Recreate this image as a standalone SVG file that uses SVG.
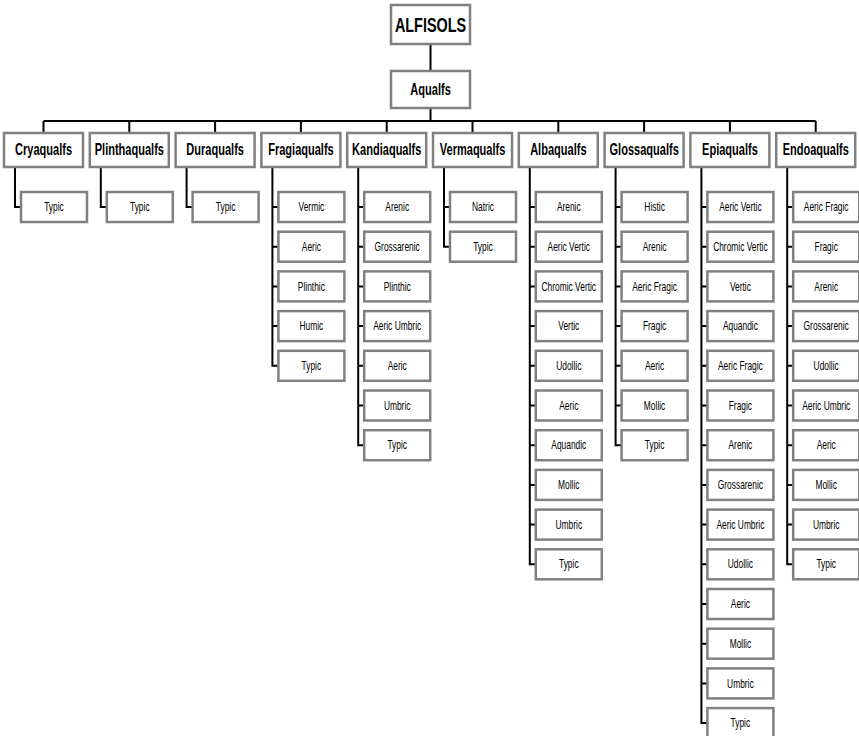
<svg xmlns="http://www.w3.org/2000/svg" width="859" height="736" viewBox="0 0 859 736">
<style>
rect{fill:#fff;stroke:#808080;stroke-width:2.5}
text{font-family:"Liberation Sans",Arial,sans-serif;fill:#000;text-anchor:middle;transform-box:fill-box;transform-origin:center}
.r{font-size:20px;font-weight:bold;transform:scaleX(0.72)}
.b{font-size:16px;font-weight:bold;transform:scaleX(0.69)}
.s{font-size:12px;transform:scaleX(0.7)}
#connectors path{fill:none;stroke:#000;stroke-width:2}
</style>
<rect x="0" y="0" width="859" height="736" style="fill:#fff;stroke:none"/>
<g id="connectors">
<path d="M430.5 44V71M430.5 108V121M43.5 121H815.7M43.5 121V133M129.3 121V133M215.1 121V133M300.9 121V133M386.7 121V133M472.5 121V133M558.3 121V133M644.1 121V133M729.9 121V133M815.7 121V133"/>
<path d="M15 167V207H21"/>
<path d="M100.8 167V207H106.8"/>
<path d="M186.6 167V207H192.6"/>
<path d="M272.4 167V365.8H278.4M272.4 207H278.4M272.4 246.7H278.4M272.4 286.4H278.4M272.4 326.1H278.4"/>
<path d="M358.2 167V445.2H364.2M358.2 207H364.2M358.2 246.7H364.2M358.2 286.4H364.2M358.2 326.1H364.2M358.2 365.8H364.2M358.2 405.5H364.2"/>
<path d="M444 167V246.7H450M444 207H450"/>
<path d="M529.8 167V564.3H535.8M529.8 207H535.8M529.8 246.7H535.8M529.8 286.4H535.8M529.8 326.1H535.8M529.8 365.8H535.8M529.8 405.5H535.8M529.8 445.2H535.8M529.8 484.9H535.8M529.8 524.6H535.8"/>
<path d="M615.6 167V445.2H621.6M615.6 207H621.6M615.6 246.7H621.6M615.6 286.4H621.6M615.6 326.1H621.6M615.6 365.8H621.6M615.6 405.5H621.6"/>
<path d="M701.4 167V723.1H707.4M701.4 207H707.4M701.4 246.7H707.4M701.4 286.4H707.4M701.4 326.1H707.4M701.4 365.8H707.4M701.4 405.5H707.4M701.4 445.2H707.4M701.4 484.9H707.4M701.4 524.6H707.4M701.4 564.3H707.4M701.4 604H707.4M701.4 643.7H707.4M701.4 683.4H707.4"/>
<path d="M787.2 167V564.3H793.2M787.2 207H793.2M787.2 246.7H793.2M787.2 286.4H793.2M787.2 326.1H793.2M787.2 365.8H793.2M787.2 405.5H793.2M787.2 445.2H793.2M787.2 484.9H793.2M787.2 524.6H793.2"/>
</g>
<g id="alfisols"><rect x="391" y="5" width="79" height="39"/><text class="r" x="430.5" y="32">ALFISOLS</text></g>
<g id="aqualfs"><rect x="391" y="71" width="79" height="37"/><text class="b" x="430.5" y="95">Aqualfs</text></g>
<g id="cryaqualfs"><rect x="4" y="133" width="79" height="34"/><text class="b" x="43.5" y="155.5">Cryaqualfs</text></g>
<g id="plinthaqualfs"><rect x="89.8" y="133" width="79" height="34"/><text class="b" x="129.3" y="155.5">Plinthaqualfs</text></g>
<g id="duraqualfs"><rect x="175.6" y="133" width="79" height="34"/><text class="b" x="215.1" y="155.5">Duraqualfs</text></g>
<g id="fragiaqualfs"><rect x="261.4" y="133" width="79" height="34"/><text class="b" x="300.9" y="155.5">Fragiaqualfs</text></g>
<g id="kandiaqualfs"><rect x="347.2" y="133" width="79" height="34"/><text class="b" x="386.7" y="155.5">Kandiaqualfs</text></g>
<g id="vermaqualfs"><rect x="433" y="133" width="79" height="34"/><text class="b" x="472.5" y="155.5">Vermaqualfs</text></g>
<g id="albaqualfs"><rect x="518.8" y="133" width="79" height="34"/><text class="b" x="558.3" y="155.5">Albaqualfs</text></g>
<g id="glossaqualfs"><rect x="604.6" y="133" width="79" height="34"/><text class="b" x="644.1" y="155.5">Glossaqualfs</text></g>
<g id="epiaqualfs"><rect x="690.4" y="133" width="79" height="34"/><text class="b" x="729.9" y="155.5">Epiaqualfs</text></g>
<g id="endoaqualfs"><rect x="776.2" y="133" width="79" height="34"/><text class="b" x="815.7" y="155.5">Endoaqualfs</text></g>

<g id="cry-typic"><rect x="21" y="192" width="66" height="30"/><text class="s" x="54" y="211.2">Typic</text></g>
<g id="plin-typic"><rect x="106.8" y="192" width="66" height="30"/><text class="s" x="139.8" y="211.2">Typic</text></g>
<g id="dura-typic"><rect x="192.6" y="192" width="66" height="30"/><text class="s" x="225.6" y="211.2">Typic</text></g>

<g id="fragi-vermic"><rect x="278.4" y="192" width="66" height="30"/><text class="s" x="311.4" y="211.2">Vermic</text></g>
<g id="fragi-aeric"><rect x="278.4" y="231.7" width="66" height="30"/><text class="s" x="311.4" y="250.9">Aeric</text></g>
<g id="fragi-plinthic"><rect x="278.4" y="271.4" width="66" height="30"/><text class="s" x="311.4" y="290.6">Plinthic</text></g>
<g id="fragi-humic"><rect x="278.4" y="311.1" width="66" height="30"/><text class="s" x="311.4" y="330.3">Humic</text></g>
<g id="fragi-typic"><rect x="278.4" y="350.8" width="66" height="30"/><text class="s" x="311.4" y="370">Typic</text></g>

<g id="kandi-arenic"><rect x="364.2" y="192" width="66" height="30"/><text class="s" x="397.2" y="211.2">Arenic</text></g>
<g id="kandi-grossarenic"><rect x="364.2" y="231.7" width="66" height="30"/><text class="s" x="397.2" y="250.9">Grossarenic</text></g>
<g id="kandi-plinthic"><rect x="364.2" y="271.4" width="66" height="30"/><text class="s" x="397.2" y="290.6">Plinthic</text></g>
<g id="kandi-aeric-umbric"><rect x="364.2" y="311.1" width="66" height="30"/><text class="s" x="397.2" y="330.3">Aeric Umbric</text></g>
<g id="kandi-aeric"><rect x="364.2" y="350.8" width="66" height="30"/><text class="s" x="397.2" y="370">Aeric</text></g>
<g id="kandi-umbric"><rect x="364.2" y="390.5" width="66" height="30"/><text class="s" x="397.2" y="409.7">Umbric</text></g>
<g id="kandi-typic"><rect x="364.2" y="430.2" width="66" height="30"/><text class="s" x="397.2" y="449.4">Typic</text></g>

<g id="verm-natric"><rect x="450" y="192" width="66" height="30"/><text class="s" x="483" y="211.2">Natric</text></g>
<g id="verm-typic"><rect x="450" y="231.7" width="66" height="30"/><text class="s" x="483" y="250.9">Typic</text></g>

<g id="alba-arenic"><rect x="535.8" y="192" width="66" height="30"/><text class="s" x="568.8" y="211.2">Arenic</text></g>
<g id="alba-aeric-vertic"><rect x="535.8" y="231.7" width="66" height="30"/><text class="s" x="568.8" y="250.9">Aeric Vertic</text></g>
<g id="alba-chromic-vertic"><rect x="535.8" y="271.4" width="66" height="30"/><text class="s" x="568.8" y="290.6">Chromic Vertic</text></g>
<g id="alba-vertic"><rect x="535.8" y="311.1" width="66" height="30"/><text class="s" x="568.8" y="330.3">Vertic</text></g>
<g id="alba-udollic"><rect x="535.8" y="350.8" width="66" height="30"/><text class="s" x="568.8" y="370">Udollic</text></g>
<g id="alba-aeric"><rect x="535.8" y="390.5" width="66" height="30"/><text class="s" x="568.8" y="409.7">Aeric</text></g>
<g id="alba-aquandic"><rect x="535.8" y="430.2" width="66" height="30"/><text class="s" x="568.8" y="449.4">Aquandic</text></g>
<g id="alba-mollic"><rect x="535.8" y="469.9" width="66" height="30"/><text class="s" x="568.8" y="489.1">Mollic</text></g>
<g id="alba-umbric"><rect x="535.8" y="509.6" width="66" height="30"/><text class="s" x="568.8" y="528.8">Umbric</text></g>
<g id="alba-typic"><rect x="535.8" y="549.3" width="66" height="30"/><text class="s" x="568.8" y="568.5">Typic</text></g>

<g id="glossa-histic"><rect x="621.6" y="192" width="66" height="30"/><text class="s" x="654.6" y="211.2">Histic</text></g>
<g id="glossa-arenic"><rect x="621.6" y="231.7" width="66" height="30"/><text class="s" x="654.6" y="250.9">Arenic</text></g>
<g id="glossa-aeric-fragic"><rect x="621.6" y="271.4" width="66" height="30"/><text class="s" x="654.6" y="290.6">Aeric Fragic</text></g>
<g id="glossa-fragic"><rect x="621.6" y="311.1" width="66" height="30"/><text class="s" x="654.6" y="330.3">Fragic</text></g>
<g id="glossa-aeric"><rect x="621.6" y="350.8" width="66" height="30"/><text class="s" x="654.6" y="370">Aeric</text></g>
<g id="glossa-mollic"><rect x="621.6" y="390.5" width="66" height="30"/><text class="s" x="654.6" y="409.7">Mollic</text></g>
<g id="glossa-typic"><rect x="621.6" y="430.2" width="66" height="30"/><text class="s" x="654.6" y="449.4">Typic</text></g>

<g id="epi-aeric-vertic"><rect x="707.4" y="192" width="66" height="30"/><text class="s" x="740.4" y="211.2">Aeric Vertic</text></g>
<g id="epi-chromic-vertic"><rect x="707.4" y="231.7" width="66" height="30"/><text class="s" x="740.4" y="250.9">Chromic Vertic</text></g>
<g id="epi-vertic"><rect x="707.4" y="271.4" width="66" height="30"/><text class="s" x="740.4" y="290.6">Vertic</text></g>
<g id="epi-aquandic"><rect x="707.4" y="311.1" width="66" height="30"/><text class="s" x="740.4" y="330.3">Aquandic</text></g>
<g id="epi-aeric-fragic"><rect x="707.4" y="350.8" width="66" height="30"/><text class="s" x="740.4" y="370">Aeric Fragic</text></g>
<g id="epi-fragic"><rect x="707.4" y="390.5" width="66" height="30"/><text class="s" x="740.4" y="409.7">Fragic</text></g>
<g id="epi-arenic"><rect x="707.4" y="430.2" width="66" height="30"/><text class="s" x="740.4" y="449.4">Arenic</text></g>
<g id="epi-grossarenic"><rect x="707.4" y="469.9" width="66" height="30"/><text class="s" x="740.4" y="489.1">Grossarenic</text></g>
<g id="epi-aeric-umbric"><rect x="707.4" y="509.6" width="66" height="30"/><text class="s" x="740.4" y="528.8">Aeric Umbric</text></g>
<g id="epi-udollic"><rect x="707.4" y="549.3" width="66" height="30"/><text class="s" x="740.4" y="568.5">Udollic</text></g>
<g id="epi-aeric"><rect x="707.4" y="589" width="66" height="30"/><text class="s" x="740.4" y="608.2">Aeric</text></g>
<g id="epi-mollic"><rect x="707.4" y="628.7" width="66" height="30"/><text class="s" x="740.4" y="647.9">Mollic</text></g>
<g id="epi-umbric"><rect x="707.4" y="668.4" width="66" height="30"/><text class="s" x="740.4" y="687.6">Umbric</text></g>
<g id="epi-typic"><rect x="707.4" y="708.1" width="66" height="30"/><text class="s" x="740.4" y="727.3">Typic</text></g>

<g id="endo-aeric-fragic"><rect x="793.2" y="192" width="66" height="30"/><text class="s" x="826.2" y="211.2">Aeric Fragic</text></g>
<g id="endo-fragic"><rect x="793.2" y="231.7" width="66" height="30"/><text class="s" x="826.2" y="250.9">Fragic</text></g>
<g id="endo-arenic"><rect x="793.2" y="271.4" width="66" height="30"/><text class="s" x="826.2" y="290.6">Arenic</text></g>
<g id="endo-grossarenic"><rect x="793.2" y="311.1" width="66" height="30"/><text class="s" x="826.2" y="330.3">Grossarenic</text></g>
<g id="endo-udollic"><rect x="793.2" y="350.8" width="66" height="30"/><text class="s" x="826.2" y="370">Udollic</text></g>
<g id="endo-aeric-umbric"><rect x="793.2" y="390.5" width="66" height="30"/><text class="s" x="826.2" y="409.7">Aeric Umbric</text></g>
<g id="endo-aeric"><rect x="793.2" y="430.2" width="66" height="30"/><text class="s" x="826.2" y="449.4">Aeric</text></g>
<g id="endo-mollic"><rect x="793.2" y="469.9" width="66" height="30"/><text class="s" x="826.2" y="489.1">Mollic</text></g>
<g id="endo-umbric"><rect x="793.2" y="509.6" width="66" height="30"/><text class="s" x="826.2" y="528.8">Umbric</text></g>
<g id="endo-typic"><rect x="793.2" y="549.3" width="66" height="30"/><text class="s" x="826.2" y="568.5">Typic</text></g>
</svg>
